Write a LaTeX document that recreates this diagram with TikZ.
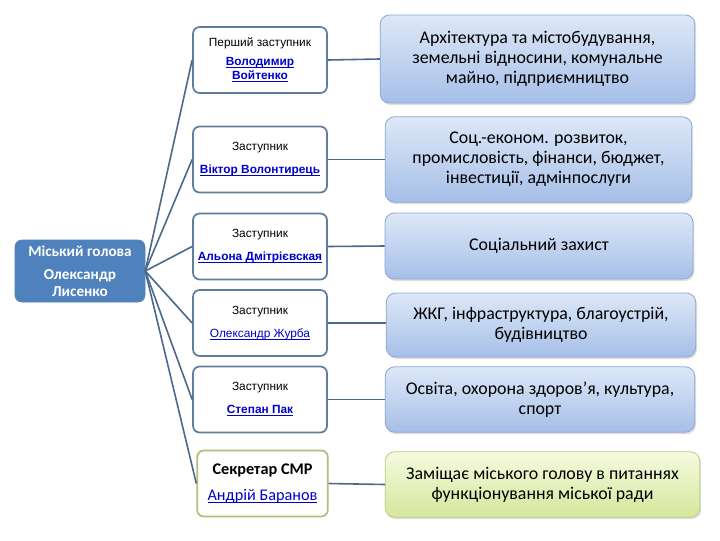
\documentclass[tikz,border=0pt]{standalone}
\usepackage{fontspec}
\setmainfont{Carlito}
\newfontfamily\tahoma{Liberation Sans}
\usetikzlibrary{shadows}
\definecolor{mayorblue}{HTML}{4F81BD}
\definecolor{depborder}{HTML}{5F7E9E}
\definecolor{linkblue}{HTML}{0000CC}
\definecolor{connline}{HTML}{4A6A8C}
\definecolor{rtop}{HTML}{DDE8F7}
\definecolor{rbot}{HTML}{A6BFE8}
\definecolor{rborder}{HTML}{8CA6D2}
\definecolor{gtop}{HTML}{F5FADF}
\definecolor{gbot}{HTML}{D5E79C}
\definecolor{gborder}{HTML}{BACB8A}
\definecolor{secborder}{HTML}{B3BD7C}
\tikzset{
  mayorbox/.style={draw=mayorblue, fill=mayorblue, rounded corners=5pt, text=white,
    minimum width=97.5pt, minimum height=46.5pt, align=center, inner sep=1pt,
    font=\fontsize{11.4}{12.5}\selectfont\bfseries},
  depbox/.style={draw=depborder, line width=1.3pt, fill=white, rounded corners=5pt,
    minimum width=100.5pt, minimum height=49.5pt, align=center, inner sep=1pt,
    font=\tahoma\fontsize{8.9}{11}\selectfont},
  secbox/.style={depbox, draw=secborder, minimum width=98pt,
    font=\fontsize{12.2}{14}\selectfont},
  rbox/.style={draw=rborder, line width=0.6pt, top color=rtop, bottom color=rbot,
    rounded corners=7pt, align=center, inner sep=2pt,
    drop shadow={opacity=0.25, shadow xshift=1pt, shadow yshift=-1.5pt},
    font=\fontsize{13.4}{15}\selectfont},
  gbox/.style={rbox, draw=gborder, top color=gtop, bottom color=gbot},
  conn/.style={draw=connline, line width=1.2pt}
}
\newcommand{\lnk}[1]{\textcolor{linkblue}{\underline{\smash{#1}}}}
\begin{document}
\begin{tikzpicture}[x=0.75pt,y=-0.75pt]
\useasboundingbox (0,0) rectangle (720,540);
\fill[white] (0,0) rectangle (720,540);

\node[mayorbox] (mayor) at (80,271) {Міський голова\\[5pt]Олександр\\Лисенко};

\node[depbox] (d1) at (260,60) {Перший заступник\\[3pt]\textbf{\lnk{Володимир}}\\\textbf{\lnk{Войтенко}}};
\node[depbox] (d2) at (260,159.5) {Заступник\\[6pt]\textbf{\lnk{Віктор Волонтирець}}};
\node[depbox] (d3) at (260,246.5) {Заступник\\[6pt]\textbf{\lnk{Альона Дмітрієвская}}};
\node[depbox] (d4) at (260,323) {Заступник\\[6pt]\lnk{Олександр Журба}};
\node[depbox] (d5) at (260,399.5) {Заступник\\[6pt]\textbf{\lnk{Степан Пак}}};
\node[secbox] (d6) at (262.5,483.5) {\textbf{Секретар СМР}\\[5pt]\lnk{Андрій Баранов}};

\node[rbox, minimum width=236pt, minimum height=66pt] (r1) at (537.5,59) {Архітектура та містобудування,\\земельні відносини, комунальне\\майно, підприємництво};
\node[rbox, minimum width=230pt, minimum height=64pt] (r2) at (538.5,159.5) {Соц.-економ. розвиток,\\промисловість, фінанси, бюджет,\\інвестиції, адмінпослуги};
\node[rbox, minimum width=231pt, minimum height=49.5pt] (r3) at (539,246) {Соціальний захист};
\node[rbox, minimum width=232pt, minimum height=48pt] (r4) at (541,325) {ЖКГ, інфраструктура, благоустрій,\\будівництво};
\node[rbox, minimum width=232pt, minimum height=49pt] (r5) at (540,399.5) {Освіта, охорона здоров’я, культура,\\спорт};
\node[gbox, minimum width=236pt, minimum height=49pt] (r6) at (542.5,484.5) {Заміщає міського голову в питаннях\\функціонування міської ради};

\foreach \d in {d1,d2,d3,d4,d5,d6} {
  \draw[conn] (mayor.east) -- (\d.west);
}
\draw[conn] (d1.east) -- (r1.west);
\draw[conn] (d2.east) -- (r2.west);
\draw[conn] (d3.east) -- (r3.west);
\draw[conn] (d4.east) -- (r4.west |- d4.east);
\draw[conn] (d5.east) -- (r5.west);
\draw[conn] (d6.east) -- (r6.west);
\end{tikzpicture}
\end{document}
